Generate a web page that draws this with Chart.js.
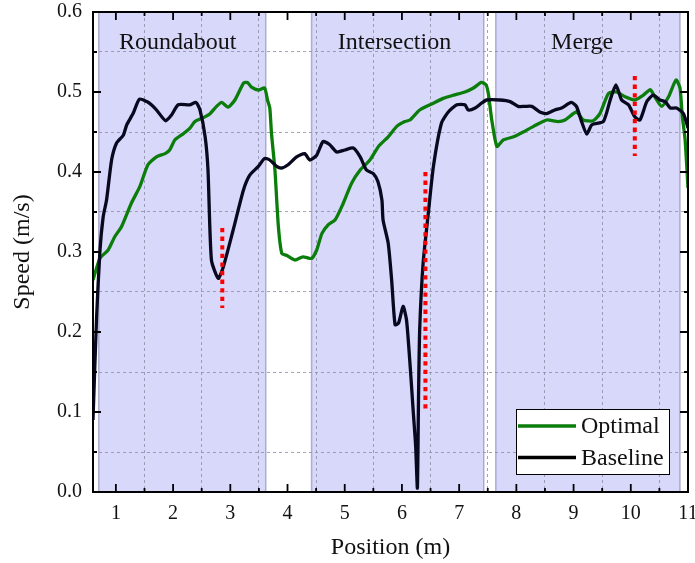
<!DOCTYPE html>
<html>
<head>
<meta charset="utf-8">
<script src="https://cdn.jsdelivr.net/npm/chart.js@4.4.1/dist/chart.umd.min.js"></script>
<style>
  html, body { margin: 0; padding: 0; background: #fff; }
  #wrap { width: 695px; height: 563px; }
</style>
</head>
<body>
<div id="wrap"><canvas id="speedChart" width="695" height="563"></canvas></div>
<script>
// speed profiles
var optimalX = [0.60, 0.72, 0.865, 0.98, 1.10, 1.27, 1.42, 1.56, 1.71, 1.86, 1.94, 2.03, 2.18, 2.29, 2.38, 2.53, 2.64, 2.76, 2.85, 2.96, 3.08, 3.23, 3.30, 3.37, 3.49, 3.60, 3.65, 3.69, 3.72, 3.78, 3.84, 3.90, 3.98, 4.13, 4.27, 4.42, 4.51, 4.60, 4.71, 4.83, 4.95, 5.12, 5.27, 5.44, 5.59, 5.76, 5.91, 6.05, 6.14, 6.31, 6.55, 6.72, 6.90, 7.10, 7.25, 7.39, 7.47, 7.51, 7.57, 7.66, 7.77, 7.95, 8.12, 8.30, 8.53, 8.73, 8.85, 9.05, 9.17, 9.34, 9.46, 9.61, 9.75, 9.90, 10.07, 10.22, 10.34, 10.42, 10.54, 10.66, 10.79, 10.86, 10.90, 10.95, 11.0];
var optimalY = [0.265, 0.292, 0.3025, 0.319, 0.332, 0.361, 0.382, 0.409, 0.419, 0.423, 0.4275, 0.44, 0.448, 0.4545, 0.463, 0.468, 0.4725, 0.482, 0.487, 0.481, 0.49, 0.511, 0.512, 0.506, 0.5025, 0.505, 0.49, 0.48, 0.448, 0.4025, 0.332, 0.298, 0.296, 0.29, 0.294, 0.292, 0.3025, 0.323, 0.334, 0.34, 0.357, 0.386, 0.4025, 0.415, 0.432, 0.444, 0.457, 0.463, 0.465, 0.4775, 0.486, 0.492, 0.496, 0.5, 0.505, 0.512, 0.509, 0.498, 0.465, 0.432, 0.44, 0.444, 0.45, 0.457, 0.465, 0.463, 0.465, 0.475, 0.465, 0.464, 0.473, 0.498, 0.5, 0.494, 0.49, 0.496, 0.503, 0.494, 0.482, 0.494, 0.515, 0.505, 0.47, 0.44, 0.38];

var baselineX = [0.60, 0.663, 0.72, 0.778, 0.837, 0.925, 1.01, 1.13, 1.19, 1.30, 1.41, 1.54, 1.62, 1.71, 1.87, 1.97, 2.09, 2.29, 2.40, 2.47, 2.56, 2.61, 2.67, 2.79, 2.88, 3.05, 3.23, 3.34, 3.49, 3.60, 3.69, 3.81, 3.90, 4.01, 4.16, 4.30, 4.39, 4.51, 4.62, 4.74, 4.86, 5.00, 5.15, 5.27, 5.38, 5.50, 5.58, 5.65, 5.67, 5.76, 5.82, 5.88, 5.94, 6.02, 6.08, 6.14, 6.20, 6.24, 6.27, 6.29, 6.31, 6.37, 6.46, 6.55, 6.69, 6.81, 6.96, 7.10, 7.16, 7.28, 7.39, 7.48, 7.71, 7.89, 8.03, 8.15, 8.27, 8.41, 8.53, 8.67, 8.79, 8.96, 9.05, 9.14, 9.23, 9.32, 9.52, 9.64, 9.74, 9.84, 9.96, 10.07, 10.16, 10.28, 10.39, 10.51, 10.60, 10.69, 10.80, 10.92, 11.0];
var baselineY = [0.09, 0.219, 0.30, 0.344, 0.365, 0.415, 0.436, 0.446, 0.459, 0.473, 0.491, 0.488, 0.484, 0.4775, 0.464, 0.471, 0.484, 0.484, 0.487, 0.4775, 0.444, 0.4025, 0.29, 0.267, 0.282, 0.3275, 0.3775, 0.396, 0.407, 0.417, 0.415, 0.407, 0.405, 0.409, 0.419, 0.423, 0.415, 0.421, 0.438, 0.434, 0.425, 0.4275, 0.43, 0.419, 0.4025, 0.398, 0.388, 0.365, 0.34, 0.311, 0.265, 0.209, 0.211, 0.232, 0.215, 0.161, 0.098, 0.057, 0.005, 0.119, 0.2025, 0.286, 0.348, 0.407, 0.461, 0.475, 0.484, 0.484, 0.4775, 0.48, 0.486, 0.49, 0.49, 0.488, 0.482, 0.482, 0.482, 0.475, 0.473, 0.4775, 0.48, 0.487, 0.482, 0.463, 0.4475, 0.459, 0.463, 0.49, 0.509, 0.49, 0.484, 0.469, 0.465, 0.488, 0.496, 0.49, 0.488, 0.48, 0.48, 0.473, 0.455];

// red dotted markers
var markerX = [2.86, 6.41, 10.07];
var markerTop = [0.33, 0.40, 0.52];
var markerBottom = [0.23, 0.10, 0.42];

// shaded scenario regions
var regionStart = [0.70, 4.42, 7.64];
var regionEnd = [3.62, 7.43, 10.86];
var regionLabels = ['Roundabout', 'Intersection', 'Merge'];
var regionLabelX = [2.08, 5.87, 9.15];
var regionLabelY = 0.562;

// ticks
var xTickValues = [1, 1.5, 2, 2.5, 3, 3.5, 4, 4.5, 5, 5.5, 6, 6.5, 7, 7.5, 8, 8.5, 9, 9.5, 10, 10.5, 11];
var yTickValues = [0, 0.05, 0.1, 0.15, 0.2, 0.25, 0.3, 0.35, 0.4, 0.45, 0.5, 0.55, 0.6];

var FONT = "'Liberation Serif', 'Times New Roman', serif";
var GREEN = '#0a7d0a';
var NAVY = '#08081f';

function pts(xs, ys) {
  return xs.map(function (x, i) { return { x: x, y: ys[i] }; });
}
function isMajor(v, step) {
  return Math.abs(v / step - Math.round(v / step)) < 1e-6;
}

var markerSets = markerX.map(function (x, i) {
  return {
    data: [{ x: x, y: markerTop[i] }, { x: x, y: markerBottom[i] }],
    borderColor: '#ff0000',
    borderWidth: 4,
    borderDash: [4.3, 4.3],
    borderCapStyle: 'butt',
    pointRadius: 0,
    order: 0
  };
});

var decor = {
  id: 'decor',
  beforeDraw: function (chart) {
    var ctx = chart.ctx, a = chart.chartArea, xs = chart.scales.x;
    ctx.save();
    ctx.fillStyle = '#ffffff';
    ctx.fillRect(0, 0, chart.width, chart.height);
    for (var i = 0; i < regionStart.length; i++) {
      var x0 = xs.getPixelForValue(regionStart[i]);
      var x1 = xs.getPixelForValue(regionEnd[i]);
      ctx.fillStyle = '#d8d8fb';
      ctx.fillRect(x0, a.top, x1 - x0, a.bottom - a.top);
      ctx.strokeStyle = 'rgba(120,120,175,0.55)';
      ctx.lineWidth = 1.5;
      ctx.beginPath();
      ctx.moveTo(x0, a.top); ctx.lineTo(x0, a.bottom);
      ctx.moveTo(x1, a.top); ctx.lineTo(x1, a.bottom);
      ctx.stroke();
    }
    ctx.restore();
  },
  beforeDatasetsDraw: function (chart) {
    var ctx = chart.ctx, xs = chart.scales.x, ys = chart.scales.y;
    ctx.save();
    ctx.fillStyle = '#111';
    ctx.font = '24px ' + FONT;
    ctx.textAlign = 'center';
    ctx.textBaseline = 'middle';
    for (var i = 0; i < regionLabels.length; i++) {
      ctx.fillText(regionLabels[i], xs.getPixelForValue(regionLabelX[i]), ys.getPixelForValue(regionLabelY));
    }
    ctx.restore();
  },
  afterDatasetsDraw: function (chart) {
    var ctx = chart.ctx, a = chart.chartArea, xs = chart.scales.x, ys = chart.scales.y;
    ctx.save();
    ctx.strokeStyle = '#000';
    ctx.lineWidth = 2;
    ctx.strokeRect(a.left, a.top, a.right - a.left, a.bottom - a.top);
    ctx.lineWidth = 1.8;
    ctx.beginPath();
    xs.ticks.forEach(function (t) {
      var px = xs.getPixelForValue(t.value);
      var len = isMajor(t.value, 1) ? 8 : 4;
      ctx.moveTo(px, a.bottom); ctx.lineTo(px, a.bottom - len);
      ctx.moveTo(px, a.top); ctx.lineTo(px, a.top + len);
    });
    ys.ticks.forEach(function (t) {
      var py = ys.getPixelForValue(t.value);
      var len = isMajor(t.value, 0.1) ? 8 : 4;
      ctx.moveTo(a.left, py); ctx.lineTo(a.left + len, py);
      ctx.moveTo(a.right, py); ctx.lineTo(a.right - len, py);
    });
    ctx.stroke();
    ctx.restore();
  },
  afterDraw: function (chart) {
    var ctx = chart.ctx, a = chart.chartArea;
    var w = 153, h = 65;
    var bx = a.right - 19 - w, by = a.bottom - 18 - h;
    ctx.save();
    ctx.fillStyle = '#ffffff';
    ctx.fillRect(bx, by, w, h);
    ctx.strokeStyle = '#000';
    ctx.lineWidth = 1;
    ctx.strokeRect(bx + 0.5, by + 0.5, w, h);
    var items = [['Optimal', GREEN], ['Baseline', '#000000']];
    ctx.font = '24px ' + FONT;
    ctx.textBaseline = 'middle';
    ctx.fillStyle = '#111';
    items.forEach(function (it, i) {
      var y = by + 17 + i * 31.5;
      ctx.strokeStyle = it[1];
      ctx.lineWidth = 3.3;
      ctx.beginPath();
      ctx.moveTo(bx + 2, y); ctx.lineTo(bx + 60, y);
      ctx.stroke();
      ctx.fillText(it[0], bx + 65, y + 1);
    });
    ctx.restore();
  }
};

var ctx = document.getElementById('speedChart').getContext('2d');
var speedChart = new Chart(ctx, {
  type: 'line',
  data: {
    datasets: markerSets.concat([
      {
        label: 'Baseline',
        data: pts(baselineX, baselineY),
        borderColor: NAVY,
        borderWidth: 3.3,
        pointRadius: 0,
        tension: 0.2,
        order: 1
      },
      {
        label: 'Optimal',
        data: pts(optimalX, optimalY),
        borderColor: GREEN,
        borderWidth: 3.3,
        pointRadius: 0,
        tension: 0.2,
        order: 2
      }
    ])
  },
  options: {
    responsive: false,
    animation: false,
    devicePixelRatio: 1,
    layout: { padding: { top: 12, right: 7, left: 0, bottom: 0 } },
    plugins: { legend: { display: false }, tooltip: { enabled: false } },
    scales: {
      x: {
        type: 'linear',
        min: 0.6,
        max: 11,
        afterBuildTicks: function (s) { s.ticks = xTickValues.map(function (v) { return { value: v }; }); },
        afterFit: function (s) { s.height = 71; s.paddingLeft = 0; s.paddingRight = 0; },
        grid: {
          drawTicks: false,
          lineWidth: 1,
          color: function (c) { return isMajor(c.tick.value, 1) ? 'rgba(0,0,0,0)' : 'rgba(140,140,165,0.8)'; }
        },
        border: { display: false, dash: [3, 3] },
        ticks: {
          autoSkip: false,
          maxRotation: 0,
          padding: 10,
          color: '#111',
          font: { family: FONT, size: 20 },
          callback: function (v) { return isMajor(v, 1) ? String(v) : ''; }
        },
        title: {
          display: true,
          text: 'Position (m)',
          color: '#111',
          font: { family: FONT, size: 24, lineHeight: 1.2 },
          padding: { top: 0, bottom: 1 }
        }
      },
      y: {
        type: 'linear',
        min: 0,
        max: 0.6,
        afterBuildTicks: function (s) { s.ticks = yTickValues.map(function (v) { return { value: v }; }); },
        afterFit: function (s) { s.width = 93; s.paddingTop = 0; s.paddingBottom = 0; },
        grid: {
          drawTicks: false,
          lineWidth: 1,
          color: function (c) { return isMajor(c.tick.value, 0.1) ? 'rgba(0,0,0,0)' : 'rgba(140,140,165,0.8)'; }
        },
        border: { display: false, dash: [3, 3] },
        ticks: {
          autoSkip: false,
          padding: 11,
          color: '#111',
          font: { family: FONT, size: 20 },
          callback: function (v) { return isMajor(v, 0.1) ? v.toFixed(1) : ''; }
        },
        title: {
          display: true,
          text: 'Speed (m/s)',
          color: '#111',
          font: { family: FONT, size: 24, lineHeight: 1.2 },
          padding: { top: 8, bottom: 0 }
        }
      }
    }
  },
  plugins: [decor]
});
</script>
</body>
</html>
